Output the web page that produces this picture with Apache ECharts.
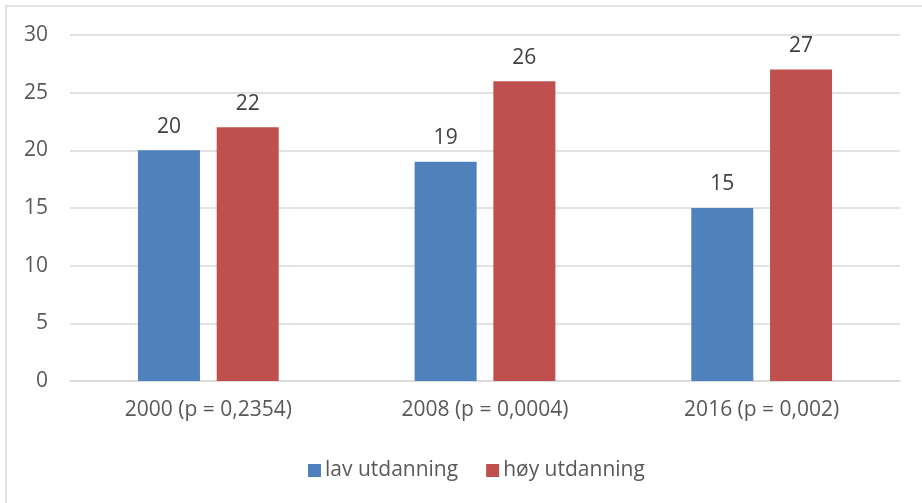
<!DOCTYPE html>
<html><head><meta charset="utf-8">
<script src="https://cdn.jsdelivr.net/npm/echarts@6/dist/echarts.min.js"></script>
<style>html,body{margin:0;padding:0;background:#fff}#c{width:922px;height:503px}</style>
</head><body><div id="c"></div>
<script>
const categories = ['2000 (p = 0,2354)', '2008 (p = 0,0004)', '2016 (p = 0,002)'];
const lavUtdanning = [20, 19, 15];
const hoyUtdanning = [22, 26, 27];
const seriesNames = ['lav utdanning', 'høy utdanning'];
const yTicks = [0, 5, 10, 15, 20, 25, 30];

const chart = echarts.init(document.getElementById('c'));
const font = '"Open Sans", "Liberation Sans", sans-serif';
const txt = '#595959';
const fs = 21;
chart.setOption({
  animation: false,
  textStyle: { fontFamily: font },
  graphic: [{ type: 'rect', shape: { x: 6, y: 6, width: 960, height: 540 }, style: { fill: 'none', stroke: '#d9d9d9', lineWidth: 1.5 }, z: -1 }],
  grid: { left: 70, right: 22, top: 35, bottom: 122 },
  legend: {
    data: seriesNames, top: 455, left: 303, itemWidth: 13, itemHeight: 13, itemGap: 28,
    icon: 'rect', textStyle: { color: txt, fontSize: fs, fontFamily: font, padding: [0, 0, 0, -1] }
  },
  xAxis: {
    type: 'category', data: categories,
    axisLine: { lineStyle: { color: '#d9d9d9', width: 1.5 } }, axisTick: { show: false },
    axisLabel: { color: txt, fontSize: fs, margin: 19 }
  },
  yAxis: {
    type: 'value', min: yTicks[0], max: yTicks[yTicks.length - 1], interval: 5,
    axisLine: { show: false }, axisTick: { show: false },
    axisLabel: { color: txt, fontSize: fs, margin: 22 },
    splitLine: { lineStyle: { color: '#d9d9d9', width: 1.5 } }
  },
  series: [
    { name: seriesNames[0], type: 'bar', data: lavUtdanning, barWidth: 62, barGap: '27%',
      itemStyle: { color: '#4F81BD' },
      label: { show: true, position: 'top', distance: 13, color: '#404040', fontSize: fs } },
    { name: seriesNames[1], type: 'bar', data: hoyUtdanning, barWidth: 62,
      itemStyle: { color: '#C0504D' },
      label: { show: true, position: 'top', distance: 13, color: '#404040', fontSize: fs } }
  ]
});
</script></body></html>
